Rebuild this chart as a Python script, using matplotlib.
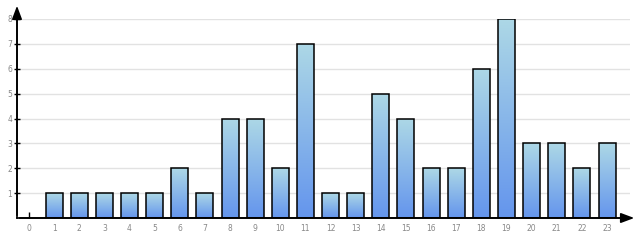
import numpy as np
import matplotlib
matplotlib.use("Agg")
import matplotlib.pyplot as plt
from matplotlib.patches import Rectangle, FancyArrowPatch
from matplotlib.colors import LinearSegmentedColormap

categories = list(range(24))
values = [0, 1, 1, 1, 1, 1, 2, 1, 4, 4, 2, 7, 1, 1, 5, 4, 2, 2, 6, 8, 3, 3, 2, 3]
yticks = [1, 2, 3, 4, 5, 6, 7, 8]

W, H = 640, 240
fig = plt.figure(figsize=(W / 100, H / 100), dpi=100)
ax_l, ax_r, ax_b, ax_t = 17, 630, 218, 19
ax = fig.add_axes([ax_l / W, (H - ax_b) / H, (ax_r - ax_l) / W, (ax_b - ax_t) / H])
spacing = (607 - 29) / 23

cmap = LinearSegmentedColormap.from_list("g", ["#6495ed", "#add8e6"])
grad = np.linspace(0, 1, 256).reshape(-1, 1)
bw = 17 / spacing
for c, v in zip(categories, values):
    if v <= 0:
        continue
    im = ax.imshow(grad, cmap=cmap, aspect="auto", origin="lower",
                   extent=[c - bw / 2, c + bw / 2, 0, v], zorder=2)
    rect = Rectangle((c - bw / 2, 0), bw, v, fill=False, edgecolor="black", lw=1.1,
                     joinstyle="miter", zorder=3)
    ax.add_patch(rect)
    im.set_clip_path(rect)

ax.set_xlim(-(29 - ax_l) / spacing, (ax_r - 29) / spacing)
ax.set_ylim(0, 8)

for y in yticks:
    ax.axhline(y, color="#e2e2e2", lw=1, zorder=1)

for s in ["top", "right"]:
    ax.spines[s].set_visible(False)
ax.spines["left"].set_linewidth(1.2)
ax.spines["bottom"].set_linewidth(1.2)
ax.set_xticks(categories)
ax.set_xticklabels([str(c) for c in categories])
ax.set_yticks(yticks)
ax.set_yticklabels([str(y) for y in yticks])
ax.tick_params(axis="x", direction="in", length=4, width=1, labelsize=5.5, labelcolor="#888888", pad=4)
ax.tick_params(axis="y", direction="inout", length=5, width=1, labelsize=5.5, labelcolor="#888888", pad=1)

# arrows
style = "-|>,head_length=4,head_width=1.5"
fig.patches.append(FancyArrowPatch((ax_l / W, (H - ax_b) / H), (ax_l / W, (H - 3) / H),
                                   transform=fig.transFigure, arrowstyle=style,
                                   color="black", lw=1.2, mutation_scale=2))
fig.patches.append(FancyArrowPatch((ax_l / W, (H - ax_b) / H), (637 / W, (H - ax_b) / H),
                                   transform=fig.transFigure, arrowstyle=style,
                                   color="black", lw=1.2, mutation_scale=2))

fig.savefig("out.png", dpi=100)
